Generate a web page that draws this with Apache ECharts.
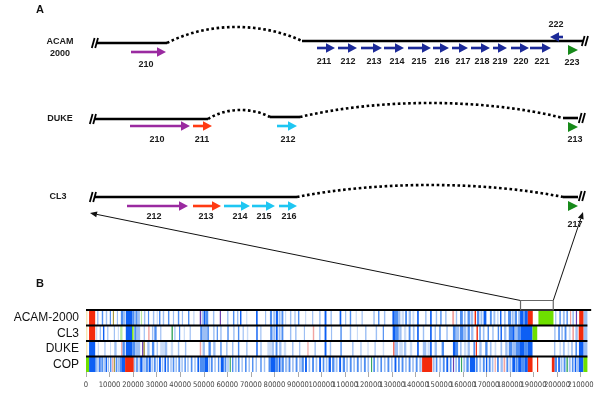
<!DOCTYPE html>
<html><head><meta charset="utf-8">
<script src="https://cdn.jsdelivr.net/npm/echarts@6/dist/echarts.min.js"></script>
<style>html,body{margin:0;padding:0;background:#fff}#c{width:600px;height:408px}</style>
</head><body><div id="c"></div>
<script>
// ================= PANEL A (schematic units) =================
const strainNames = [['ACAM\n2000', 60, 48], ['DUKE', 60, 119], ['CL3', 58, 197]];
// solid genome segments [x1,y1,x2,y2]
const solidSegments = [[97,43,167,43],[302,41,583,41],[95,119,208,119],[270,117,300,117],[563,118,578,118],[95,197,297,197],[563,197,578,197]];
// dotted deletion arcs [x1,y1,x2,y2,peakY]
const dottedArcs = [[167,43,302,41,27],[208,119,270,117,110],[300,117,563,118,103],[297,197,563,197,185]];
// break marks "//" [x,y]
const breakMarks = [[95,43],[585,41],[93,119],[582,118],[93,197],[582,196]];
// genes: [name, start, end, y, colour, triangleOnly, labelX, labelY]
const genesACAM = [
  ['210',131,166,52,'purple',0,146,65],
  ['211',317,335,48,'navy',0,324,62],['212',338,357,48,'navy',0,348,62],
  ['213',361,382,48,'navy',0,374,62],['214',384,404,48,'navy',0,397,62],
  ['215',408,431,48,'navy',0,419,62],['216',433,449,48,'navy',0,442,62],
  ['217',452,468,48,'navy',0,463,62],['218',471,490,48,'navy',0,482,62],
  ['219',493,507,48,'navy',0,500,62],['220',511,529,48,'navy',0,521,62],
  ['221',530,551,48,'navy',0,542,62],
  ['222',563,550,37,'navy',0,556,25],
  ['223',568,578,50,'green',1,572,63]
];
const genesDUKE = [
  ['210',130,190,126,'purple',0,157,140],
  ['211',193,212,126,'red',0,202,140],
  ['212',277,297,126,'cyan',0,288,140],
  ['213',568,578,127,'green',1,575,140]
];
const genesCL3 = [
  ['212',127,188,206,'purple',0,154,217],
  ['213',193,221,206,'red',0,206,217],
  ['214',224,250,206,'cyan',0,240,217],
  ['215',252,275,206,'cyan',0,264,217],
  ['216',279,297,206,'cyan',0,289,217],
  ['217',568,578,206,'green',1,575,225]
];
const geneColors = {purple:'#9a2aa0', navy:'#1c2a98', red:'#ff3a12', cyan:'#1ec6f2', green:'#178a1a'};
// connector arrow tips in panel A units
const connectorTargets = [[90,213],[583,212]];

// ================= PANEL B (genome position, bp) =================
const rowNames = ['ACAM-2000','CL3','DUKE','COP'];
const xTicks = [0,10000,20000,30000,40000,50000,60000,70000,80000,90000,100000,110000,120000,130000,140000,150000,160000,170000,180000,190000,200000,210000];
const zoomBox = [184500, 198400];
// colour codes: 0 dark blue,1 mid blue,2 light blue,3 pale blue,4 red,5 green,6 purple,7 pink,8 pale yellow,9 olive,10 teal,11 light green
const stripeColors = ['#0d5ff4','#4e8ef2','#9dbff4','#cadcf8','#f32a0c','#6ee000','#6a3fb0','#f2a3a0','#f6e7b4','#a89a40','#3aa860','#b8e8a0'];
const stripesACAM = [[0,600,8],[1300,3900,4],[4700,5300,2],[6700,7300,1],[8400,9000,2],[10100,10600,1],[11400,11900,9],[13100,13600,2],[14800,15700,1],[15700,16600,2],[16900,19600,0],[19600,20400,1],[20400,22900,2],[21200,21700,1],[23300,23800,11],[24600,25200,2],[26300,26800,1],[28400,29000,2],[30000,30500,3],[31000,31600,1],[32600,33200,2],[34800,35400,1],[36900,37400,2],[39000,39600,1],[40700,41200,2],[43300,43900,1],[45500,46100,3],[48300,48900,6],[49300,50000,2],[50000,50700,0],[50700,51900,1],[53900,54500,2],[56800,57300,6],[59900,60500,2],[62400,63000,1],[64100,64700,2],[65400,66000,0],[68000,68500,3],[72200,72900,0],[76000,76500,2],[78100,79000,1],[79500,80300,2],[80600,81500,0],[81800,82600,2],[83000,83800,1],[84500,85000,3],[86600,87200,2],[88500,89000,2],[90000,90600,1],[93000,93500,3],[96000,96500,2],[99000,99600,2],[101300,102100,0],[103800,104400,2],[107700,108400,0],[110000,110500,2],[112000,112600,1],[114500,115000,3],[117000,117500,2],[122000,122600,2],[124000,124600,1],[126500,127100,2],[130100,131100,0],[131100,132500,1],[132500,133500,2],[134000,135000,3],[135500,136300,1],[137000,138000,2],[138600,139400,3],[140600,141300,0],[144000,144600,2],[146100,146800,0],[148500,149100,2],[150400,151000,1],[152500,153100,2],[155500,156300,7],[157000,157600,2],[158800,160000,1],[160500,161200,2],[162000,163000,1],[163300,164400,2],[165000,165600,4],[166000,167000,1],[167500,168300,2],[168800,170000,0],[171500,172300,1],[173000,173800,2],[174500,175200,3],[175800,176400,0],[177500,178200,2],[179200,180500,1],[180800,181600,2],[182000,183000,1],[183500,184300,2],[184300,185600,0],[185600,186300,1],[186300,187600,0],[187600,189700,4],[192100,198500,5],[199200,199700,2],[201000,201600,1],[202500,203300,2],[204000,204600,1],[205500,206000,7],[206500,207200,2],[208000,208500,6],[209400,211300,4],[211300,212900,2]];
const stripesCL3 = [[0,600,8],[1300,3900,4],[4200,4800,3],[5800,6400,2],[7200,7800,0],[9000,9500,2],[11800,12300,2],[13500,14000,3],[14500,15500,11],[16900,19600,0],[19600,20200,5],[20500,21500,1],[21500,23000,2],[24500,25000,2],[26400,27000,7],[28000,28600,2],[29000,30000,1],[31500,32000,2],[36300,36900,10],[37500,38000,2],[39500,40000,1],[41500,42000,3],[44000,44500,2],[48500,49500,1],[49500,51500,2],[51500,52200,1],[54000,54600,2],[55500,56000,1],[57000,57600,2],[60000,60600,1],[62500,63100,2],[64500,65100,1],[66500,67000,2],[68300,68900,3],[72300,72900,0],[74000,74500,2],[78200,79200,1],[79500,80300,2],[80600,81400,0],[81800,82600,2],[83000,83800,1],[86600,87200,2],[88800,89400,2],[92500,93000,2],[96300,96900,7],[99000,99600,2],[101300,102100,0],[104000,104500,2],[108000,108600,1],[112000,112600,2],[115000,115500,3],[118500,119100,2],[123000,123600,2],[126000,126500,1],[130200,131200,0],[131200,132800,1],[133000,134000,2],[135000,136000,3],[137000,137800,1],[138800,139500,2],[140600,141300,0],[143000,143600,2],[146100,146800,0],[148000,148600,2],[150000,150600,1],[153000,153600,2],[155800,157000,1],[157000,158500,2],[158800,160300,1],[160500,161500,2],[162000,163000,1],[163500,164500,2],[165800,166400,4],[167000,167600,1],[168500,169200,2],[170500,171100,1],[172500,173100,2],[174800,175400,1],[176000,176600,0],[177500,178500,2],[179500,181000,1],[181000,182000,0],[182000,183200,2],[183200,184500,1],[184500,189600,0],[189600,191600,5],[198800,199400,2],[200500,201200,1],[201800,202500,2],[203200,204000,1],[205000,205800,3],[206500,207200,7],[207800,208800,2],[209200,211300,4],[211300,212900,2]];
const stripesDUKE = [[0,600,8],[1300,3900,0],[5000,5500,3],[7800,8300,2],[10200,10600,3],[12000,13000,2],[14900,15500,7],[15500,16500,1],[16900,19600,0],[19600,21000,1],[21000,23000,2],[23800,24400,6],[24400,25000,9],[26000,27000,2],[28000,29000,1],[30000,30500,2],[31500,33500,3],[33500,34500,2],[36000,37000,3],[39000,39600,2],[42000,42600,2],[48300,48900,7],[49500,50500,2],[52000,53000,1],[54000,55000,2],[57000,57600,1],[59500,60100,2],[62000,62600,2],[64500,65100,1],[68000,68600,2],[72300,72900,0],[74000,74600,2],[77000,79000,3],[79000,79800,2],[80500,81300,1],[82000,83000,2],[84000,85000,3],[87500,88100,2],[90500,91000,2],[94000,94500,7],[97000,97600,2],[101300,102100,0],[103500,104100,2],[108000,108600,1],[113000,113600,2],[116500,117000,2],[119500,120000,3],[122500,123000,2],[126000,126600,3],[130500,131000,4],[131000,132500,2],[133000,134500,3],[135000,136000,2],[137500,138500,3],[140600,141300,0],[143000,144500,2],[145000,146000,3],[146100,146800,0],[148000,149000,2],[151000,152000,1],[155800,157000,0],[157000,158000,1],[158800,159500,2],[160500,161500,3],[162000,163000,2],[164500,165200,1],[165500,166000,4],[167000,168000,2],[169500,170500,1],[171500,172200,2],[173500,174200,3],[176000,176700,2],[178000,179000,2],[179500,181000,1],[181000,182500,2],[182500,184000,1],[184000,186000,0],[186000,187600,1],[187600,189600,0],[198700,199300,2],[201000,201700,3],[202500,203300,2],[204500,205200,3],[206000,206700,2],[207800,208500,1],[209300,211300,0],[211300,212900,2]];
const stripesCOP = [[0,1300,5],[1300,3900,0],[3900,4500,1],[4800,5400,2],[5600,6200,0],[6500,7200,1],[7400,8000,2],[8300,8900,0],[9200,9800,2],[10200,10800,1],[11100,11600,7],[11800,12300,9],[12600,13300,1],[13500,14200,2],[14300,15000,1],[15000,16600,0],[16600,20300,4],[20300,21000,2],[21300,22000,1],[22300,22800,2],[23000,24000,0],[24300,25000,2],[25300,26300,1],[26600,27500,0],[27800,28400,2],[28800,29600,1],[30000,30600,2],[31000,31800,0],[32200,32800,2],[33300,34000,0],[34500,35200,1],[35800,36400,2],[36800,37500,1],[38000,38600,2],[39200,40000,1],[40500,41100,2],[41800,42400,1],[43000,43600,2],[44500,45200,1],[46000,46600,2],[47300,48000,0],[48300,50500,1],[50500,51800,0],[52000,52600,2],[53000,53800,1],[54500,55100,2],[56000,56600,1],[57200,58500,0],[58800,59600,1],[60000,60600,2],[61000,61500,10],[62000,62600,1],[63200,64000,2],[64500,65200,1],[66000,66600,2],[67500,68200,1],[69000,69600,2],[70500,71100,1],[72000,72600,2],[74000,74600,1],[75500,76100,2],[77500,78500,1],[78500,80500,0],[80500,81500,1],[81800,82600,0],[83000,84000,1],[84500,85500,2],[86000,86800,1],[87500,88200,2],[89000,89800,1],[90500,91200,2],[91500,92500,1],[93000,93800,0],[94500,95200,2],[96000,96800,1],[97500,98200,2],[99000,99800,0],[100500,101200,1],[101800,102500,2],[103000,104000,0],[104500,105500,1],[106000,106800,2],[107500,108300,0],[109000,110000,1],[110500,111200,2],[112000,112800,1],[113500,114200,2],[115000,115800,1],[116500,117200,2],[118000,118800,1],[119500,120200,2],[121000,121500,10],[122000,122700,1],[123500,124200,2],[125000,125700,1],[126500,127200,2],[128000,128800,1],[129500,130200,2],[131000,131800,0],[132500,133200,1],[134000,134800,1],[135500,136200,2],[137000,137800,1],[138500,139200,2],[140000,140800,1],[141500,142500,2],[142700,147000,4],[147300,148000,2],[148500,149200,1],[150000,150800,2],[151500,152300,1],[153000,153800,0],[154500,155200,1],[155800,156300,6],[156800,157500,2],[158000,158800,1],[159200,159700,10],[160200,161000,2],[161500,162500,1],[163000,165200,0],[165500,166300,1],[167000,167800,2],[168500,169300,1],[169800,170400,0],[171000,171800,1],[172300,173000,2],[173500,174000,7],[174500,175300,1],[176000,177000,2],[177300,178000,7],[178500,179300,1],[179800,180600,2],[181000,182300,0],[182500,183300,1],[183500,185000,0],[185000,186300,1],[186300,187600,0],[187600,189600,4],[191500,192000,4],[197800,199000,4],[199000,200000,1],[200500,201200,0],[201500,202300,2],[202800,203600,1],[204000,204600,10],[205000,205800,2],[206300,207000,1],[207500,208200,0],[208500,209300,2],[209300,211200,0],[211200,212900,5]];
const rowStripes = [stripesACAM, stripesCL3, stripesDUKE, stripesCOP];
const rowEnds = [214500, 212900, 212900, 212900];

// ================= build =================
const allGenes = genesACAM.concat(genesDUKE, genesCL3);
const colorKeys = Object.keys(geneColors);
const geneData = allGenes.map(g => [g[1], g[2], g[3], colorKeys.indexOf(g[4]), g[5]]);
const textItems = strainNames.map(s => ({t:s[0], x:s[1], y:s[2]})).concat(allGenes.map(g => ({t:g[0], x:g[6], y:g[7]})));
const stripeData = [];
rowStripes.forEach((list, r) => list.forEach(s => stripeData.push([s[0], s[1], r, s[2]])));
// tick labels split into two interleaved sets so neighbouring labels never collide
const labelsEven = xTicks.filter((v, i) => i % 2 === 0);
const labelsOdd = xTicks.filter((v, i) => i % 2 === 1);

const chart = echarts.init(document.getElementById('c'), null, {renderer:'canvas'});
const FONT_B = 'bold 9px "Liberation Sans", Arial, sans-serif';
const tickLabelStyle = {formatter: v => String(v), hideOverlap:false, fontSize:7.6, margin:9, color:'#444',
  fontFamily:'"Liberation Sans Narrow", "DejaVu Sans Condensed", sans-serif'};

chart.setOption({
  animation: false,
  backgroundColor: '#fff',
  graphic: [
    {type:'text', left:36, top:4, style:{text:'A', font:'bold 11px "Liberation Sans", Arial', fill:'#111'}},
    {type:'text', left:36, top:278, style:{text:'B', font:'bold 11px "Liberation Sans", Arial', fill:'#111'}}
  ],
  grid: [
    {left:0, top:0, width:600, height:250},
    {left:86, top:310, width:504, height:62}
  ],
  xAxis: [
    {gridIndex:0, type:'value', min:0, max:600, show:false},
    {gridIndex:1, type:'value', min:0, max:214000, position:'bottom',
      axisLine:{show:false}, splitLine:{show:false},
      axisTick:{show:true, length:5, lineStyle:{color:'#aaa'}, customValues: xTicks},
      axisLabel:Object.assign({customValues: labelsEven}, tickLabelStyle)},
    {gridIndex:1, type:'value', min:0, max:214000, position:'bottom', offset:0,
      axisLine:{show:false}, splitLine:{show:false}, axisTick:{show:false},
      axisLabel:Object.assign({customValues: labelsOdd}, tickLabelStyle)}
  ],
  yAxis: [
    {gridIndex:0, type:'value', min:0, max:250, inverse:true, show:false},
    {gridIndex:1, type:'category', data: rowNames, inverse:true,
      axisLine:{show:false}, axisTick:{show:false}, splitLine:{show:false},
      axisLabel:{interval:0, fontSize:12, color:'#111', margin:7, fontFamily:'"Liberation Sans", Arial, sans-serif'}}
  ],
  series: [
    {type:'custom', xAxisIndex:0, yAxisIndex:0, data: solidSegments, encode:{x:[0,2], y:[1,3]},
      renderItem(params, api){
        const a = api.coord([api.value(0), api.value(1)]), b = api.coord([api.value(2), api.value(3)]);
        return {type:'line', shape:{x1:a[0], y1:a[1], x2:b[0], y2:b[1]}, style:{stroke:'#000', lineWidth:2.6}};
      }},
    {type:'custom', xAxisIndex:0, yAxisIndex:0, data: dottedArcs, encode:{x:[0,2], y:[1,3]},
      renderItem(params, api){
        const x1=api.value(0), y1=api.value(1), x2=api.value(2), y2=api.value(3), pk=api.value(4);
        const c = (pk - 0.125*(y1+y2))/0.75, w = x2-x1;
        const p1=api.coord([x1,y1]), p2=api.coord([x2,y2]);
        const c1=api.coord([x1+w*0.3, c]), c2=api.coord([x2-w*0.3, c]);
        return {type:'bezierCurve', shape:{x1:p1[0],y1:p1[1],x2:p2[0],y2:p2[1],cpx1:c1[0],cpy1:c1[1],cpx2:c2[0],cpy2:c2[1]},
          style:{stroke:'#000', fill:null, lineWidth:2.6, lineDash:[2.6,2.6]}};
      }},
    {type:'custom', xAxisIndex:0, yAxisIndex:0, data: breakMarks,
      renderItem(params, api){
        const p = api.coord([api.value(0), api.value(1)]);
        const mk = dx => ({type:'line', shape:{x1:p[0]+dx-1.4, y1:p[1]+5, x2:p[0]+dx+1.4, y2:p[1]-5}, style:{stroke:'#000', lineWidth:1.8}});
        return {type:'group', children:[mk(-1.8), mk(1.6)]};
      }},
    {type:'custom', xAxisIndex:0, yAxisIndex:0, data: geneData, encode:{x:[0,1], y:2},
      renderItem(params, api){
        const s = api.coord([api.value(0), api.value(2)]), e = api.coord([api.value(1), api.value(2)]);
        const col = geneColors[colorKeys[api.value(3)]];
        const tri = api.value(4);
        const y = s[1];
        if (tri) {
          return {type:'polygon', shape:{points:[[s[0],y-5],[e[0],y],[s[0],y+5]]}, style:{fill:col}};
        }
        const dir = e[0] >= s[0] ? 1 : -1;
        const hl = 9, hh = 4.8;
        const hx = e[0] - dir*hl;
        return {type:'group', children:[
          {type:'line', shape:{x1:s[0], y1:y, x2:hx+dir*1, y2:y}, style:{stroke:col, lineWidth:2.6}},
          {type:'polygon', shape:{points:[[hx,y-hh],[e[0],y],[hx,y+hh]]}, style:{fill:col}}
        ]};
      }},
    {type:'custom', xAxisIndex:0, yAxisIndex:0, data: textItems.map(t => [t.x, t.y]),
      renderItem(params, api){
        const p = api.coord([api.value(0), api.value(1)]);
        const t = textItems[params.dataIndex].t;
        return {type:'text', x:p[0], y:p[1], style:{text:t, fill:'#1a1a1a', font:FONT_B, align:'center', verticalAlign:'middle', lineHeight:12}};
      }},
    {type:'custom', xAxisIndex:1, yAxisIndex:1, data: stripeData, encode:{x:[0,1], y:2},
      renderItem(params, api){
        const a = api.coord([api.value(0), api.value(2)]), b = api.coord([api.value(1), api.value(2)]);
        const h = api.size([0,1])[1];
        return {type:'rect', shape:{x:a[0], y:a[1]-h/2, width:Math.max(b[0]-a[0], 0.9), height:h},
          style:{fill:stripeColors[api.value(3)]}};
      }},
    {type:'custom', xAxisIndex:1, yAxisIndex:1, data: rowEnds.map((e,i) => [0, e, i]), encode:{x:[0,1], y:2}, z:5,
      renderItem(params, api){
        const a = api.coord([api.value(0), api.value(2)]), b = api.coord([api.value(1), api.value(2)]);
        const h = api.size([0,1])[1];
        const y = a[1]-h/2;
        return {type:'line', shape:{x1:a[0], y1:y, x2:b[0], y2:y}, style:{stroke:'#000', lineWidth:2}};
      }},
    {type:'custom', xAxisIndex:1, yAxisIndex:1, data: [[zoomBox[0], zoomBox[1], 0]], encode:{x:[0,1], y:2}, z:6,
      renderItem(params, api){
        const a = api.coord([api.value(0), api.value(2)]), b = api.coord([api.value(1), api.value(2)]);
        const h = api.size([0,1])[1];
        const y = a[1]-h/2;
        return {type:'rect', shape:{x:a[0], y:y-9.5, width:b[0]-a[0], height:9.5}, style:{stroke:'#666', fill:null, lineWidth:1.2}};
      }}
  ]
});

(function(){
  const r0 = chart.convertToPixel({gridIndex:1}, [zoomBox[0], 0]);
  const r1 = chart.convertToPixel({gridIndex:1}, [zoomBox[0], 1]);
  const band = r1[1]-r0[1];
  const topY = r0[1] - band/2 - 9.5;
  const xl = r0[0];
  const xr = chart.convertToPixel({gridIndex:1}, [zoomBox[1], 0])[0];
  const sources = [[xl, topY], [xr, topY]];
  const els = [];
  connectorTargets.forEach((t, i) => {
    const p = chart.convertToPixel({gridIndex:0}, t);
    const s = sources[i];
    const dx = p[0]-s[0], dy = p[1]-s[1], L = Math.hypot(dx, dy);
    const ux = dx/L, uy = dy/L, hl = 7, hw = 3;
    const bx = p[0]-ux*hl, by = p[1]-uy*hl;
    els.push({type:'line', shape:{x1:s[0], y1:s[1], x2:bx, y2:by}, style:{stroke:'#111', lineWidth:1}});
    els.push({type:'polygon', shape:{points:[[p[0],p[1]],[bx-uy*hw, by+ux*hw],[bx+uy*hw, by-ux*hw]]}, style:{fill:'#111'}});
  });
  const opt = chart.getOption();
  chart.setOption({graphic: opt.graphic[0].elements.concat(els)});
})();
</script>
</body></html>
